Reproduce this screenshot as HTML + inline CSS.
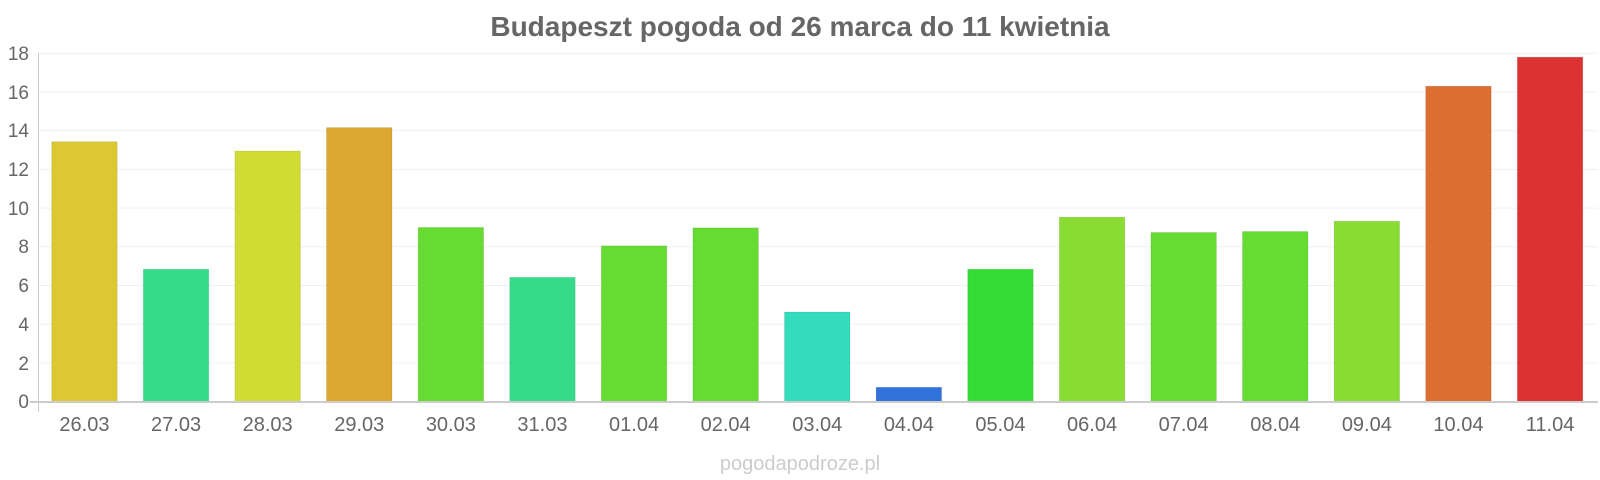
<!DOCTYPE html>
<html><head><meta charset="utf-8"><style>body{margin:0;background:#fff}svg{display:block}text{font-family:"Liberation Sans",sans-serif}</style></head><body>
<svg width="1600" height="480" xmlns="http://www.w3.org/2000/svg">
<text x="800" y="36" text-anchor="middle" font-size="28" font-weight="bold" fill="#666">Budapeszt pogoda od 26 marca do 11 kwietnia</text>
<g stroke="#f0f0f0" stroke-width="1">
<line x1="38" x2="1598" y1="53.3" y2="53.3"/><line x1="38" x2="1598" y1="92" y2="92"/><line x1="38" x2="1598" y1="130.7" y2="130.7"/><line x1="38" x2="1598" y1="169.4" y2="169.4"/><line x1="38" x2="1598" y1="208.1" y2="208.1"/><line x1="38" x2="1598" y1="246.8" y2="246.8"/><line x1="38" x2="1598" y1="285.5" y2="285.5"/><line x1="38" x2="1598" y1="324.2" y2="324.2"/><line x1="38" x2="1598" y1="362.9" y2="362.9"/>
</g>
<g font-size="19" fill="#666" text-anchor="end">
<text x="29" y="60">18</text><text x="29" y="99">16</text><text x="29" y="137">14</text><text x="29" y="176">12</text><text x="29" y="215">10</text><text x="29" y="253">8</text><text x="29" y="292">6</text><text x="29" y="331">4</text><text x="29" y="370">2</text><text x="29" y="408">0</text>
</g>
<g id="bars"></g>
<line x1="38.5" x2="38.5" y1="53" y2="412" stroke="#ccc"/>
<line x1="30" x2="1598" y1="402" y2="402" stroke="#ccc" stroke-width="2"/>
<g font-size="20" fill="#666" text-anchor="middle" id="labels"></g>
<text x="800" y="470" text-anchor="middle" font-size="20" fill="#ccc">pogodapodroze.pl</text>
<script>
var v=[13.43,6.84,12.95,14.16,9.0,6.42,8.05,8.98,4.63,0.74,6.84,9.53,8.74,8.79,9.32,16.3,17.8];
var c=["#dcc832","#34dc8a","#d0dc32","#dca832","#66dc32","#34dc8a","#66dc32","#66dc32","#34dcbe","#3272dc","#34dc34","#8adc32","#66dc32","#66dc32","#8adc32","#dc6e32","#dc3232"];
var l=["26.03","27.03","28.03","29.03","30.03","31.03","01.04","02.04","03.04","04.04","05.04","06.04","07.04","08.04","09.04","10.04","11.04"];
var ns="http://www.w3.org/2000/svg",b=document.getElementById("bars"),lb=document.getElementById("labels");
for(var i=0;i<17;i++){var x=51.7+i*91.6,h=v[i]*19.35;var r=document.createElementNS(ns,"rect");r.setAttribute("x",x);r.setAttribute("y",401.6-h);r.setAttribute("width",65.5);r.setAttribute("height",h);r.setAttribute("fill",c[i]);r.setAttribute("stroke","rgba(0,0,0,0.08)");b.appendChild(r);
var t=document.createElementNS(ns,"text");t.setAttribute("x",x+32.75);t.setAttribute("y",431);t.textContent=l[i];lb.appendChild(t);}
</script>
</svg>
</body></html>
